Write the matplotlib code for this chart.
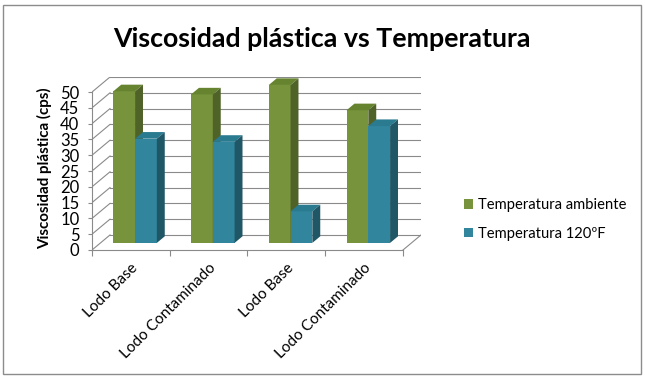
import matplotlib
matplotlib.use('Agg')
import matplotlib.pyplot as plt
from matplotlib.patches import Polygon, Patch, Rectangle
import numpy as np

categories = ['Lodo Base', 'Lodo Contaminado', 'Lodo Base', 'Lodo Contaminado']
series_names = ['Temperatura ambiente', 'Temperatura 120ºF']
ambiente = [48, 47, 50, 42]
t120 = [33, 32, 10, 37]
yticks = list(range(0, 55, 5))

plt.rcParams['font.family'] = ['Lato', 'DejaVu Sans']

# colours: front, top, side
green = ('#77933C', '#66842F', '#4F6228')
blue = ('#31859C', '#2A7A90', '#1F5767')

fig = plt.figure(figsize=(6.45, 3.8), dpi=100)
fig.patches.append(Rectangle((3 / 645, 6 / 380), 638 / 645, 369 / 380, transform=fig.transFigure,
                             fill=False, edgecolor='#8c8c8c', lw=1.0))

ax = fig.add_axes([92 / 645, 130 / 380, 329 / 645, 173 / 380])

n = len(categories)
dx = 18 / 77.7          # depth offset in category units
dy = 15 / 3.15          # depth offset in value units
ax.set_xlim(0, n + dx)
ax.set_ylim(0, 50 + dy)

grid_c = '#8a8a8a'
# back wall gridlines and side wall diagonals
for v in yticks:
    ax.plot([dx, n + dx], [v + dy, v + dy], color=grid_c, lw=0.8, zorder=1)
    ax.plot([0, dx], [v, v + dy], color=grid_c, lw=0.8, zorder=1)
# floor
ax.plot([n, n + dx], [0, dy], color=grid_c, lw=0.8, zorder=1)


def bar3d(x0, w, v, cols, z0=0.47, z1=0.91):
    fx = x0 + z0 * dx
    fy = z0 * dy
    bx = x0 + z1 * dx
    by = z1 * dy
    ax.bar(fx, v, width=w, bottom=fy, align='edge', color=cols[0], edgecolor='none', zorder=3)
    ax.add_patch(Polygon([(fx, v + fy), (fx + w, v + fy), (bx + w, v + by), (bx, v + by)],
                         closed=True, facecolor=cols[1], edgecolor='none', zorder=3))
    ax.add_patch(Polygon([(fx + w, fy), (bx + w, by), (bx + w, v + by), (fx + w, v + fy)],
                         closed=True, facecolor=cols[2], edgecolor='none', zorder=3))


w = 0.28
for i in range(n):
    bar3d(i + 0.165, w, ambiente[i], green)
    bar3d(i + 0.165 + w, w, t120[i], blue)

for s in ['top', 'right']:
    ax.spines[s].set_visible(False)
ax.spines['left'].set_bounds(0, 50)
ax.spines['bottom'].set_bounds(0, n)
ax.spines['left'].set_color(grid_c)
ax.spines['bottom'].set_color(grid_c)

ax.set_yticks(yticks)
ax.set_yticklabels([str(v) for v in yticks], fontsize=12)
ax.tick_params(axis='y', length=3, color=grid_c, pad=6)

ax.set_xticks(np.arange(n + 1))
ax.set_xticklabels([])
ax.tick_params(axis='x', which='major', length=4, color=grid_c)
ax.set_xticks(np.arange(n) + 0.5, minor=True)
ax.set_xticklabels(categories, minor=True, rotation=45, ha='right', va='top',
                   rotation_mode='anchor', fontsize=11)
ax.tick_params(axis='x', which='minor', length=0, pad=8)

fig.text(45 / 645, 1 - 168 / 380, 'Viscosidad plástica (cps)', rotation=90, ha='center',
         va='center', fontsize=10.9, fontweight='bold')
fig.text(322 / 645, 1 - 39 / 380, 'Viscosidad plástica vs Temperatura', ha='center',
         va='center', fontsize=19.3, fontweight='bold')

handles = [Patch(facecolor=green[0]), Patch(facecolor=blue[0])]
fig.legend(handles, series_names, loc='upper left', bbox_to_anchor=(451 / 645, 1 - 185 / 380),
           frameon=False, fontsize=10.6, handlelength=0.6, handleheight=0.6, handletextpad=0.3,
           labelspacing=1.0)

fig.savefig('out.png', dpi=100)
